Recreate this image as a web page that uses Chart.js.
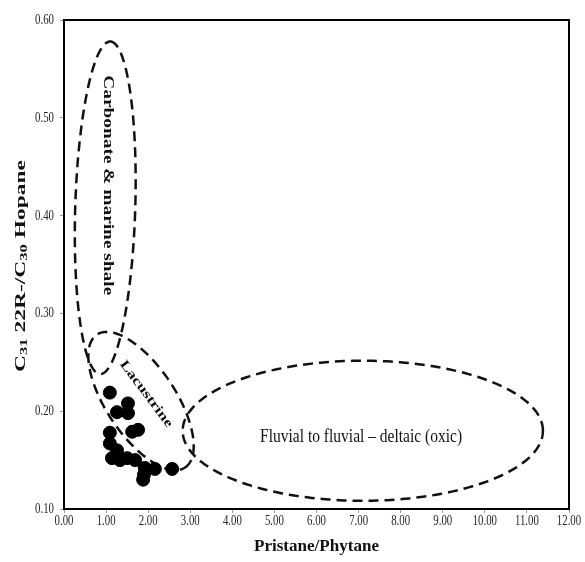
<!DOCTYPE html>
<html>
<head>
<meta charset="utf-8">
<script src="https://cdn.jsdelivr.net/npm/chart.js@4.4.1/dist/chart.umd.min.js"></script>
<style>
  html, body { margin: 0; padding: 0; background: #fff; }
  #wrap { width: 585px; height: 562px; position: relative; }
</style>
</head>
<body>
<div id="wrap"><canvas id="chart"></canvas></div>
<script>
// Pr/Ph against C31 22R / C30 hopane, one entry per sample
const pristanePhytane = [1.09, 1.26, 1.52, 1.52, 1.76, 1.62, 1.09, 1.09, 1.26, 1.14, 1.33, 1.50, 1.69, 1.92, 2.16, 2.57, 1.88, 1.90];
const hopaneRatio     = [0.219, 0.199, 0.208, 0.198, 0.181, 0.179, 0.178, 0.167, 0.160, 0.152, 0.150, 0.152, 0.150, 0.142, 0.141, 0.141, 0.130, 0.135];

const xTicks = [0, 12, 1];     // min, max, step
const yTicks = [0.10, 0.60, 0.10];

// depositional fields: centre, half-axis a, half-axis b (data units)
const fieldNames   = ['carbonate', 'lacustrine', 'fluvial'];
const fieldCentres = [[0.98, 0.408], [1.83, 0.2104], [7.10, 0.180]];
const fieldAxisA   = [[0.12, 0.170], [1.045, -0.068], [4.28, 0]];
const fieldAxisB   = [[0.713, -0.0009], [0.69, 0.0194], [0, 0.0716]];

const fieldLabels = ['Carbonate & marine shale', 'Lacustrine', 'Fluvial to fluvial \u2013 deltaic (oxic)'];
const xTitle = 'Pristane/Phytane';

const serif = '"Liberation Serif", "Times New Roman", serif';

// text stretched/squeezed along its own direction to a given length
function drawFitted(ctx, text, x, y, angle, font, length) {
    ctx.save();
    ctx.font = font;
    const w = ctx.measureText(text).width;
    ctx.translate(x, y);
    ctx.rotate(angle);
    ctx.scale(length / w, 1);
    ctx.textAlign = 'center';
    ctx.textBaseline = 'middle';
    ctx.fillText(text, 0, 0);
    ctx.restore();
}

const fieldPlugin = {
    id: 'fields',
    beforeDatasetsDraw(chart) {
        const ctx = chart.ctx;
        const xs = chart.scales.x, ys = chart.scales.y;
        const px = (v) => xs.getPixelForValue(v);
        const py = (v) => ys.getPixelForValue(v);
        ctx.save();
        ctx.strokeStyle = '#111';
        ctx.lineWidth = 2.5;
        ctx.setLineDash([10, 6]);
        fieldNames.forEach((name, i) => {
            const c = fieldCentres[i], a = fieldAxisA[i], b = fieldAxisB[i];
            const cx = px(c[0]), cy = py(c[1]);
            const ax = px(c[0] + a[0]) - cx, ay = py(c[1] + a[1]) - cy;
            const bx = px(c[0] + b[0]) - cx, by = py(c[1] + b[1]) - cy;
            ctx.beginPath();
            for (let k = 0; k <= 240; k++) {
                const t = k / 240 * Math.PI * 2;
                const x = cx + ax * Math.cos(t) + bx * Math.sin(t);
                const y = cy + ay * Math.cos(t) + by * Math.sin(t);
                if (k === 0) ctx.moveTo(x, y); else ctx.lineTo(x, y);
            }
            ctx.closePath();
            ctx.stroke();
        });
        ctx.restore();

        ctx.save();
        ctx.fillStyle = '#111';
        drawFitted(ctx, fieldLabels[0], px(1.045), py(0.431), Math.PI / 2, 'bold 14px ' + serif, 220);
        drawFitted(ctx, fieldLabels[1], px(1.95), py(0.2176), 0.93, 'bold 13px ' + serif, 80);
        drawFitted(ctx, fieldLabels[2], px(7.06), py(0.174), 0, '19px ' + serif, 202);
        ctx.restore();
    },
    afterDraw(chart) {
        const ctx = chart.ctx;
        const area = chart.chartArea;
        const xs = chart.scales.x, ys = chart.scales.y;

        // frame
        ctx.save();
        ctx.strokeStyle = '#000';
        ctx.lineWidth = 2;
        ctx.setLineDash([]);
        ctx.strokeRect(area.left, area.top, area.right - area.left, area.bottom - area.top);
        ctx.restore();

        // condensed tick labels
        ctx.save();
        ctx.fillStyle = '#222';
        ctx.font = '15px ' + serif;
        ctx.textBaseline = 'middle';
        xs.ticks.forEach((t) => {
            const x = xs.getPixelForValue(t.value);
            ctx.save();
            ctx.translate(x, area.bottom + 12);
            ctx.scale(0.72, 1);
            ctx.textAlign = 'center';
            ctx.fillText(t.value.toFixed(2), 0, 0);
            ctx.restore();
        });
        ys.ticks.forEach((t) => {
            const y = ys.getPixelForValue(t.value);
            ctx.save();
            ctx.translate(area.left - 10, y);
            ctx.scale(0.72, 1);
            ctx.textAlign = 'right';
            ctx.fillText(t.value.toFixed(2), 0, 0);
            ctx.restore();
        });
        ctx.restore();

        // axis titles
        ctx.save();
        ctx.fillStyle = '#111';
        drawFitted(ctx, xTitle, (area.left + area.right) / 2, area.bottom + 38, 0, 'bold 16px ' + serif, 125);

        // y title with subscripts: C31 22R-/C30 Hopane
        const parts = [['C', 0], ['31', 1], [' 22R-/C', 0], ['30', 1], [' Hopane', 0]];
        const big = 'bold 14px ' + serif, small = 'bold 10px ' + serif;
        let total = 0;
        parts.forEach((p) => { ctx.font = p[1] ? small : big; total += ctx.measureText(p[0]).width; });
        const target = 212;
        ctx.translate(20, 266);
        ctx.rotate(-Math.PI / 2);
        ctx.scale(target / total, 1);
        ctx.textBaseline = 'alphabetic';
        ctx.textAlign = 'left';
        let pos = -total / 2;
        parts.forEach((p) => {
            ctx.font = p[1] ? small : big;
            ctx.fillText(p[0], pos, p[1] ? 7 : 5);
            pos += ctx.measureText(p[0]).width;
        });
        ctx.restore();
    }
};

const points = pristanePhytane.map((x, i) => ({ x: x, y: hopaneRatio[i] }));

new Chart(document.getElementById('chart'), {
    type: 'scatter',
    data: {
        datasets: [{
            data: points,
            backgroundColor: '#000',
            borderColor: '#000',
            pointRadius: 6.5,
            pointHoverRadius: 6.5
        }]
    },
    options: {
        responsive: true,
        maintainAspectRatio: false,
        animation: false,
        layout: { padding: { top: 20, right: 16, left: 0, bottom: 0 } },
        plugins: {
            legend: { display: false },
            tooltip: { enabled: false }
        },
        scales: {
            x: {
                type: 'linear',
                min: xTicks[0],
                max: xTicks[1],
                ticks: { stepSize: xTicks[2], color: 'rgba(0,0,0,0)' },
                grid: { drawOnChartArea: false, drawTicks: true, tickLength: 4, color: '#999' },
                border: { display: false },
                afterFit: function(scale) { scale.height = 53; }
            },
            y: {
                type: 'linear',
                min: yTicks[0],
                max: yTicks[1],
                ticks: { stepSize: yTicks[2], color: 'rgba(0,0,0,0)' },
                grid: { drawOnChartArea: false, drawTicks: true, tickLength: 4, color: '#999' },
                border: { display: false },
                afterFit: function(scale) { scale.width = 64; }
            }
        }
    },
    plugins: [fieldPlugin]
});
</script>
</body>
</html>
